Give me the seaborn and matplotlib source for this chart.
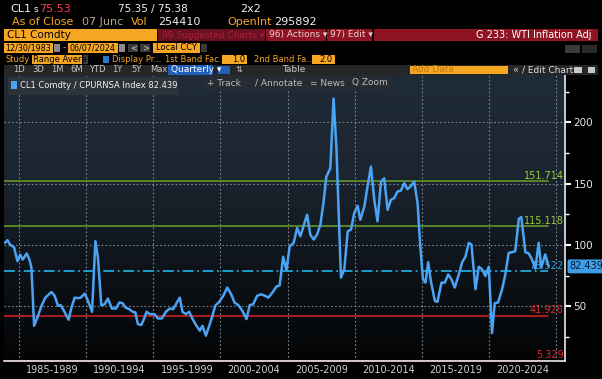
import numpy as np
import matplotlib
matplotlib.use("Agg")
import matplotlib.pyplot as plt
import seaborn as sns
from matplotlib.patches import Rectangle
from matplotlib.colors import LinearSegmentedColormap

# quarterly points (decimal year, WTI / CPI ratio)
years = [1983.96, 1984.16, 1984.35, 1984.65, 1984.90, 1985.10, 1985.30, 1985.59, 1985.79, 1985.94,
         1986.14, 1986.43, 1986.69, 1986.98, 1987.43, 1987.67, 1987.92, 1988.12, 1988.36, 1988.71,
         1988.92, 1989.16, 1989.41, 1989.61, 1989.90, 1990.15, 1990.45, 1990.70, 1990.89, 1991.14,
         1991.39, 1991.63, 1991.93, 1992.23, 1992.48, 1992.73, 1992.93, 1993.22, 1993.47, 1993.67,
         1993.86, 1994.12, 1994.31, 1994.51, 1994.75, 1995.10, 1995.35, 1995.65, 1995.94, 1996.24,
         1996.49, 1996.79, 1996.98, 1997.18, 1997.43, 1997.68, 1997.93, 1998.22, 1998.47, 1998.67,
         1998.92, 1999.17, 1999.41, 1999.61, 1999.91, 2000.21, 2000.51, 2000.80, 2001.05, 2001.34,
         2001.64, 2001.94, 2002.18, 2002.44, 2002.73, 2003.03, 2003.33, 2003.57, 2003.87, 2004.17,
         2004.41, 2004.67, 2004.91, 2005.16, 2005.45, 2005.71, 2005.95, 2006.45, 2006.69, 2006.94,
         2007.19, 2007.44, 2007.68, 2007.88, 2008.18, 2008.42, 2008.63, 2008.97, 2009.22, 2009.47,
         2009.72, 2009.96, 2010.21, 2010.41, 2010.71, 2010.95, 2011.20, 2011.45, 2011.69, 2011.95,
         2012.19, 2012.44, 2012.69, 2012.93, 2013.18, 2013.43, 2013.68, 2013.92, 2014.18, 2014.42,
         2014.67, 2014.87, 2015.07, 2015.26, 2015.46, 2015.66, 2015.96, 2016.15, 2016.45, 2016.70,
         2016.95, 2017.19, 2017.44, 2017.74, 2017.99, 2018.23, 2018.48, 2018.68, 2018.98, 2019.23,
         2019.47, 2019.72, 2019.97, 2020.21, 2020.41, 2020.66, 2020.96, 2021.20, 2021.45, 2021.70,
         2021.94, 2022.20, 2022.39, 2022.69, 2022.94, 2023.19, 2023.43, 2023.68, 2023.87, 2024.17,
         2024.42]
ratio = [101.6, 103.8, 100.3, 98.0, 86.7, 92.0, 88.0, 93.0, 88.0, 81.6,
         34.0, 42.0, 50.3, 57.0, 61.6, 58.4, 50.3, 50.8, 46.2, 38.9,
         48.9, 57.0, 56.5, 57.0, 60.3, 54.3, 45.4, 103.0, 89.5, 50.8,
         51.6, 56.2, 48.1, 48.1, 53.0, 52.4, 48.9, 47.6, 45.4, 44.9,
         35.4, 34.6, 39.5, 45.4, 43.5, 43.5, 40.0, 40.0, 45.4, 48.1,
         47.6, 53.5, 57.0, 45.4, 43.5, 45.4, 39.5, 34.0, 30.0, 34.0,
         25.9, 34.0, 42.1, 50.3, 53.5, 58.4, 65.2, 59.7, 53.0, 50.8,
         46.2, 39.5, 50.8, 51.6, 58.4, 59.7, 58.4, 57.0, 61.1, 66.0,
         67.0, 90.3, 79.4, 98.9, 101.6, 113.8, 107.0, 124.6, 108.4, 104.3,
         108.4, 116.5, 135.4, 155.6, 162.5, 219.2, 180.0, 73.3, 80.0, 111.0,
         112.4, 126.0, 131.9, 120.5, 131.3, 147.6, 163.8, 136.8, 119.2, 151.6,
         154.3, 128.6, 136.8, 138.1, 143.5, 144.3, 150.3, 145.4, 148.1, 151.6,
         134.1, 98.9, 71.9, 69.2, 85.9, 70.5, 54.3, 53.5, 69.2, 69.2,
         75.9, 71.9, 65.2, 75.9, 85.9, 90.3, 101.6, 100.3, 63.8, 82.2,
         80.0, 74.6, 82.2, 28.1, 52.4, 53.0, 63.8, 75.9, 93.5, 94.0,
         94.8, 121.1, 122.7, 94.0, 93.0, 88.1, 80.6, 101.6, 81.4, 92.2,
         82.439]

band_levels = [151.714, 115.118, 78.522, 41.926, 5.329]
band_labels = ["151.714", "115.118", "78.522", "41.926", "5.329"]
period_labels = ["1985-1989", "1990-1994", "1995-1999", "2000-2004",
                 "2005-2009", "2010-2014", "2015-2019", "2020-2024"]
period_starts = list(range(1985, 2026, 5))
y_ticks = [50, 100, 150, 200]
last_value = 82.439

sns.set_style("dark")
plt.rcParams['font.family'] = ['Liberation Sans Narrow', 'DejaVu Sans']

W, H = 602, 379
fig = plt.figure(figsize=(W / 100, H / 100), dpi=100, facecolor='black')


# helpers in screen pixels (top-left origin)
def box(x0, y0, x1, y1, color, z=6):
    fig.add_artist(Rectangle((x0 / W, 1 - y1 / H), (x1 - x0) / W, (y1 - y0) / H,
                             transform=fig.transFigure, facecolor=color,
                             edgecolor='none', zorder=z))


def txt(x, y, s, color, size=6.5, ha='left', **kw):
    fig.text(x / W, 1 - y / H, s, color=color, fontsize=size, ha=ha, va='center',
             zorder=8, **kw)


ORANGE = '#f5a623'
RED_BAR = '#8e1424'

# ---- chart ----
ax = fig.add_axes([4 / W, 1 - 361 / H, 561 / W, 286 / H])
cmap = LinearSegmentedColormap.from_list('bg', ['#030405', '#0e141a', '#1c2631', '#1f2b37'])
grad = np.linspace(1, 0, 256).reshape(-1, 1)
ax.imshow(grad, extent=[0, 1, 0, 1], transform=ax.transAxes, aspect='auto',
          cmap=cmap, zorder=0)

x_lo, x_hi = 1983.9, 2025.64
line_end = 2024.37
band_colors = ['#5e8f2a', '#5e8f2a', '#1fa9dc', '#b81d1d', '#b81d1d']
label_colors = ['#9acd32', '#9acd32', '#1fa9dc', '#e0262a', '#e0262a']
for lvl, lab, c, lc in zip(band_levels, band_labels, band_colors, label_colors):
    ls = (0, (6, 2, 1, 2)) if lab == "78.522" else '-'
    ax.plot([x_lo, line_end], [lvl, lvl], color=c, lw=1.3, ls=ls, zorder=2)
    ax.text(2025.55, lvl + 0.5, lab, color=lc, fontsize=7, ha='right', va='bottom', zorder=4)

sns.lineplot(x=years, y=ratio, ax=ax, color='#4aa3f5', lw=1.8, zorder=5)

ax.set_xlim(x_lo, x_hi)
ax.set_ylim(5.3, 238.5)
ax.set_xticks(period_starts)
ax.set_xticklabels([])
ax.set_xticks([s + 2.5 for s in period_starts[:-1]], minor=True)
ax.set_xticklabels(period_labels, minor=True)
ax.tick_params(axis='x', which='major', length=11, color='#9a9a9a', width=0.8, direction='out')
ax.tick_params(axis='x', which='minor', length=0, pad=3, labelsize=7, labelcolor='#d0d0d0')

ax.yaxis.tick_right()
ax.set_yticks(y_ticks)
ax.set_yticks([25, 75, 125, 175, 225], minor=True)
ax.tick_params(axis='y', which='major', length=4, width=1.5, color='white',
               labelsize=7.5, labelcolor='#e8e8e8', pad=2)
ax.tick_params(axis='y', which='minor', length=3, width=1, color='white')

ax.grid(which='major', color='#7d8790', ls=(0, (1.5, 2)), lw=0.8)
for s in ['top', 'left']:
    ax.spines[s].set_visible(False)
for s in ['right', 'bottom']:
    ax.spines[s].set_color('#e8e8e8')
    ax.spines[s].set_linewidth(1.2)
    ax.spines[s].set_zorder(6)
ax.set_xlabel('')
ax.set_ylabel('')

ax.text(1.008, last_value, f"{last_value:.3f}", transform=ax.get_yaxis_transform(),
        fontsize=7, color='#06182a', ha='left', va='center', zorder=9, clip_on=False,
        bbox=dict(boxstyle='round,pad=0.2', fc='#3f9ee8', ec='none'))

# legend box and chart toolbar
box(8, 77, 178, 95, '#2c3339', z=7)
box(11, 81, 17, 89, '#4aa3f5', z=8)
txt(20, 86, "CL1 Comdty / CPURNSA Index 82.439", '#f0f0f0', size=6)
box(203, 76, 390, 90, '#262c31', z=7)
txt(207, 83, "+ Track", '#b8bcc0', size=6.5)
txt(255, 83, "/ Annotate", '#b8bcc0', size=6.5)
txt(310, 83, "= News", '#b8bcc0', size=6.5)
txt(352, 83, "Q Zoom", '#b8bcc0', size=6.5)

# ---- header rows ----
txt(10, 9, "CL1", '#f0f0f0', size=8)
txt(34, 9.5, "s", '#f0f0f0', size=6.5)
txt(39, 9, "75.53", '#ff3a4e', size=8)
txt(118, 9, "75.35 / 75.38", '#f0f0f0', size=7.5)
txt(240, 9, "2x2", '#f0f0f0', size=8)

txt(12, 22, "As of Close", ORANGE, size=8)
txt(82, 22, "07 Junc", '#b8a88a', size=8)
txt(131, 22, "Vol", ORANGE, size=8)
txt(158, 22, "254410", '#f0f0f0', size=8)
txt(227, 22, "OpenInt", ORANGE, size=8)
txt(274, 22, "295892", '#f0f0f0', size=8)

box(4, 29, 157, 41, ORANGE)
txt(7, 35, "CL1 Comdty", 'black', size=7.5)
box(158, 29, 265, 41, '#6a1020')
txt(162, 35, "99 Suggested Charts \u25be", '#a8203c', size=6.5)
box(266, 29, 326, 41, RED_BAR)
txt(269, 35, "96) Actions \u25be", '#f0d0d0', size=6.5)
box(327, 29, 372, 41, RED_BAR)
txt(330, 35, "97) Edit \u25be", '#f0d0d0', size=6.5)
box(374, 29, 598, 41, RED_BAR)
txt(592, 35, "G 233: WTI Inflation Adj", 'white', size=7, ha='right')

box(4, 43, 53, 53, ORANGE)
txt(5, 48, "12/30/1983", 'black', size=5.8)
box(54, 44, 60, 52, '#8a8a8a')
txt(63, 48, "-", ORANGE, size=6.5)
box(68, 43, 118, 53, ORANGE)
txt(69, 48, "06/07/2024", 'black', size=5.8)
box(119, 44, 125, 52, '#8a8a8a')
box(128, 44, 138, 52, '#3a3a3a')
txt(130, 48, "<", '#d0d0d0', size=6)
box(140, 44, 150, 52, '#3a3a3a')
txt(142, 48, ">", '#d0d0d0', size=6)
box(153, 43, 200, 53, ORANGE)
txt(156, 48, "Local CCY", 'black', size=6)
box(201, 44, 207, 52, '#3a3a3a')
box(565, 45, 580, 53, '#3a3a3a')
box(582, 45, 597, 53, '#2a2a2a')

txt(5, 59.5, "Study", ORANGE, size=6)
box(32, 55, 82, 64, ORANGE)
txt(33, 59.5, "Range Avera", 'black', size=6)
box(83, 55, 88, 64, '#3a3a3a')
box(103, 56, 109, 63, '#2a78d0')
txt(112, 59.5, "Display Pr...", ORANGE, size=6)
txt(165, 59.5, "1st Band Fac...", ORANGE, size=6)
box(222, 55, 247, 64, ORANGE)
txt(245, 59.5, "1.0", 'black', size=6, ha='right')
txt(254, 59.5, "2nd Band Fa...", ORANGE, size=6)
box(312, 55, 335, 64, ORANGE)
txt(333, 59.5, "2.0", 'black', size=6, ha='right')

box(4, 65, 598, 75, '#262626')
for lab, xx in zip(["1D", "3D", "1M", "6M", "YTD", "1Y", "5Y", "Max"],
                   [13, 32, 51, 70, 89, 112, 131, 150]):
    txt(xx, 70, lab, '#c8c8c8', size=6)
box(168, 65, 213, 75, '#1f5fb8')
txt(171, 70, "Quarterly \u25be", 'white', size=6.5)
box(218, 66, 230, 74, '#1f5fb8')
txt(236, 70, "\u21c5", '#c8c8c8', size=6)
txt(282, 70, "Table", '#c8c8c8', size=6.5)
box(410, 66, 508, 74, ORANGE)
txt(412, 70, "Add Data", '#c07a10', size=6.5)
txt(512, 70, "\u00ab", '#c8c8c8', size=7)
txt(522, 70, "/ Edit Chart", '#e0e0e0', size=6.5)
box(574, 67, 582, 73, '#c8c8c8')
box(588, 67, 595, 73, '#c8c8c8')

fig.savefig("out.png", dpi=100, facecolor='black')
